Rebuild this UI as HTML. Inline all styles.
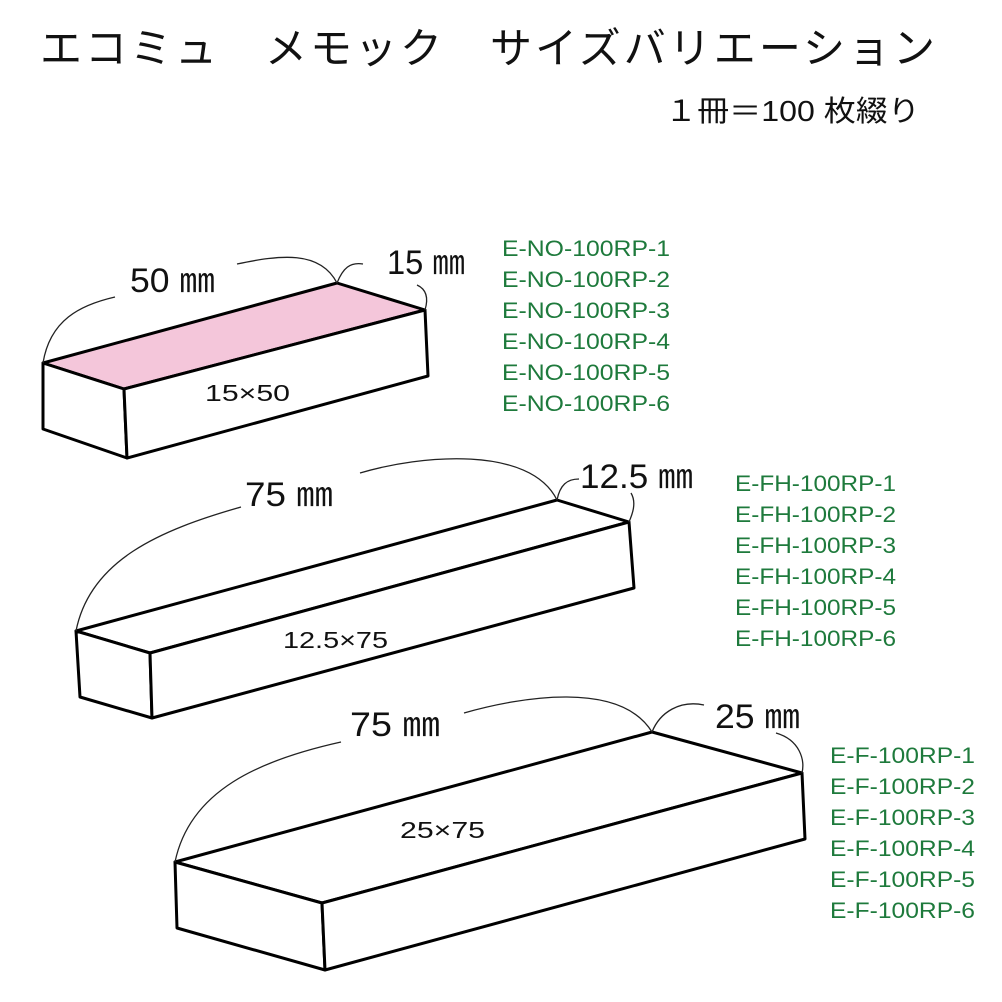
<!DOCTYPE html>
<html><head><meta charset="utf-8"><style>
html,body{margin:0;padding:0;background:#fff}
svg{display:block}
.t{font-family:"Liberation Sans","Noto Sans CJK JP",sans-serif}
.g{font-family:"Liberation Sans",sans-serif;fill:#1e7a3c;font-size:22px}
</style></head><body>
<svg width="1002" height="1002" viewBox="0 0 1002 1002" xmlns="http://www.w3.org/2000/svg">
<text class="t" x="40" y="63" font-size="42" fill="#111" textLength="895" lengthAdjust="spacing">エコミュ　メモック　サイズバリエーション</text>
<text class="t" x="665" y="121" font-size="29" fill="#111" textLength="255" lengthAdjust="spacingAndGlyphs">１冊＝100 枚綴り</text>

<g stroke="#000" stroke-width="3" stroke-linejoin="round" fill="#fff">
<polygon points="43,363 337,283 425,310 124,389" fill="#f4c6da"/>
<polygon points="43,363 124,389 127,458 43,429"/>
<polygon points="124,389 425,310 428,376 127,458"/>
<polygon points="76,631 557,500 629,522 150,653"/>
<polygon points="76,631 150,653 152,718 80,697"/>
<polygon points="150,653 629,522 634,588 152,718"/>
<polygon points="175,862 652,732 802,773 322,903"/>
<polygon points="175,862 322,903 325,970 177,928"/>
<polygon points="322,903 802,773 805,839 325,970"/>
</g>

<g stroke="#222" stroke-width="1.3" fill="none">
<path d="M43,363 C50,320 80,305 115,297"/>
<path d="M237,264 C280,255 320,250 337,283"/>
<path d="M337,283 C343,268 350,262 363,264"/>
<path d="M417,285 C428,290 428,300 425,310"/>
<path d="M76,631 C90,560 160,530 241,507"/>
<path d="M360,473 C420,455 530,445 557,500"/>
<path d="M557,500 C560,485 567,479 579,479"/>
<path d="M631,493 C637,503 632,515 629,522"/>
<path d="M175,862 C190,790 260,760 341,742"/>
<path d="M464,713 C520,697 620,680 652,732"/>
<path d="M652,732 C660,712 680,700 704,705"/>
<path d="M776,733 C800,740 805,760 802,773"/>
</g>

<g class="t" fill="#111" lengthAdjust="spacingAndGlyphs">
<text x="130" y="292" font-size="34" textLength="85" lengthAdjust="spacingAndGlyphs">50 ㎜</text>
<text x="387" y="274" font-size="34" textLength="78" lengthAdjust="spacingAndGlyphs">15 ㎜</text>
<text x="245" y="506" font-size="34" textLength="88" lengthAdjust="spacingAndGlyphs">75 ㎜</text>
<text x="580" y="488" font-size="34" textLength="113" lengthAdjust="spacingAndGlyphs">12.5 ㎜</text>
<text x="350" y="736" font-size="34" textLength="90" lengthAdjust="spacingAndGlyphs">75 ㎜</text>
<text x="715" y="728" font-size="34" textLength="85" lengthAdjust="spacingAndGlyphs">25 ㎜</text>
<text x="205" y="401" font-size="23" textLength="85" lengthAdjust="spacingAndGlyphs">15×50</text>
<text x="283" y="648" font-size="23" textLength="105" lengthAdjust="spacingAndGlyphs">12.5×75</text>
<text x="400" y="838" font-size="23" textLength="85" lengthAdjust="spacingAndGlyphs">25×75</text>
</g>

<g class="g">
<text x="502" y="256" textLength="168" lengthAdjust="spacingAndGlyphs">E-NO-100RP-1</text>
<text x="502" y="287" textLength="168" lengthAdjust="spacingAndGlyphs">E-NO-100RP-2</text>
<text x="502" y="318" textLength="168" lengthAdjust="spacingAndGlyphs">E-NO-100RP-3</text>
<text x="502" y="349" textLength="168" lengthAdjust="spacingAndGlyphs">E-NO-100RP-4</text>
<text x="502" y="380" textLength="168" lengthAdjust="spacingAndGlyphs">E-NO-100RP-5</text>
<text x="502" y="411" textLength="168" lengthAdjust="spacingAndGlyphs">E-NO-100RP-6</text>
<text x="735" y="491" textLength="161" lengthAdjust="spacingAndGlyphs">E-FH-100RP-1</text>
<text x="735" y="522" textLength="161" lengthAdjust="spacingAndGlyphs">E-FH-100RP-2</text>
<text x="735" y="553" textLength="161" lengthAdjust="spacingAndGlyphs">E-FH-100RP-3</text>
<text x="735" y="584" textLength="161" lengthAdjust="spacingAndGlyphs">E-FH-100RP-4</text>
<text x="735" y="615" textLength="161" lengthAdjust="spacingAndGlyphs">E-FH-100RP-5</text>
<text x="735" y="646" textLength="161" lengthAdjust="spacingAndGlyphs">E-FH-100RP-6</text>
<text x="830" y="763" textLength="145" lengthAdjust="spacingAndGlyphs">E-F-100RP-1</text>
<text x="830" y="794" textLength="145" lengthAdjust="spacingAndGlyphs">E-F-100RP-2</text>
<text x="830" y="825" textLength="145" lengthAdjust="spacingAndGlyphs">E-F-100RP-3</text>
<text x="830" y="856" textLength="145" lengthAdjust="spacingAndGlyphs">E-F-100RP-4</text>
<text x="830" y="887" textLength="145" lengthAdjust="spacingAndGlyphs">E-F-100RP-5</text>
<text x="830" y="918" textLength="145" lengthAdjust="spacingAndGlyphs">E-F-100RP-6</text>
</g>
</svg>
</body></html>
